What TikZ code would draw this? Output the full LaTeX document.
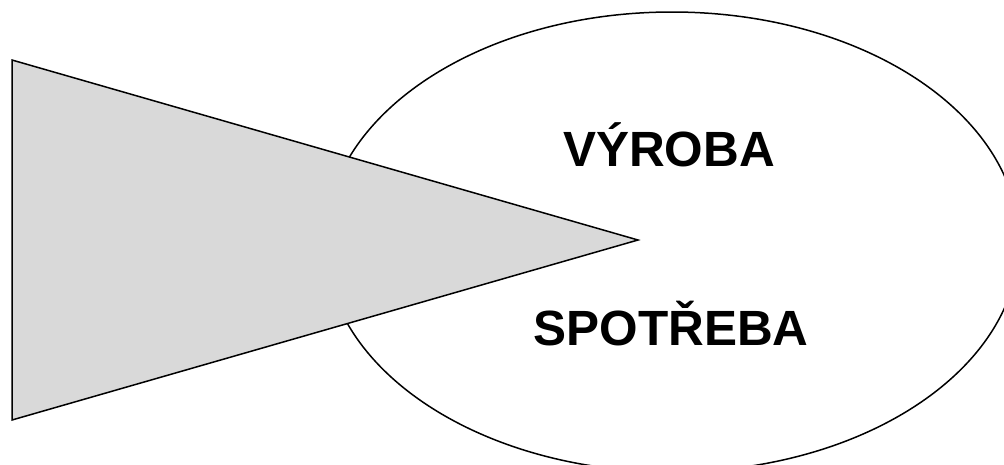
\documentclass[tikz,border=0pt]{standalone}
\usepackage{fontspec}
\setmainfont{Liberation Sans}
\usetikzlibrary{shapes.geometric}
\begin{document}
\begin{tikzpicture}[x=1pt,y=-1pt,
  outline/.style={draw=black,line width=1.5pt,line join=miter},
  label/.style={font=\fontsize{49.5}{50}\selectfont\bfseries,anchor=base,inner sep=0pt}]
\useasboundingbox (0,0) rectangle (1004,464);
\clip (0,0) rectangle (1004,464);
\node[ellipse,outline,fill=white,minimum width=694pt,minimum height=460pt,inner sep=0pt] (ell) at (672,242) {};
\coordinate (t1) at (12,60);
\coordinate (t2) at (12,420);
\coordinate (t3) at (638,240);
\draw[outline,fill={rgb,255:red,217;green,217;blue,217}] (t1) -- (t3) -- (t2) -- cycle;
\node[label] (vyroba) at (669,166) {VÝROBA};
\node[label] (spotreba) at (671,345) {SPOTŘEBA};
\end{tikzpicture}
\end{document}
